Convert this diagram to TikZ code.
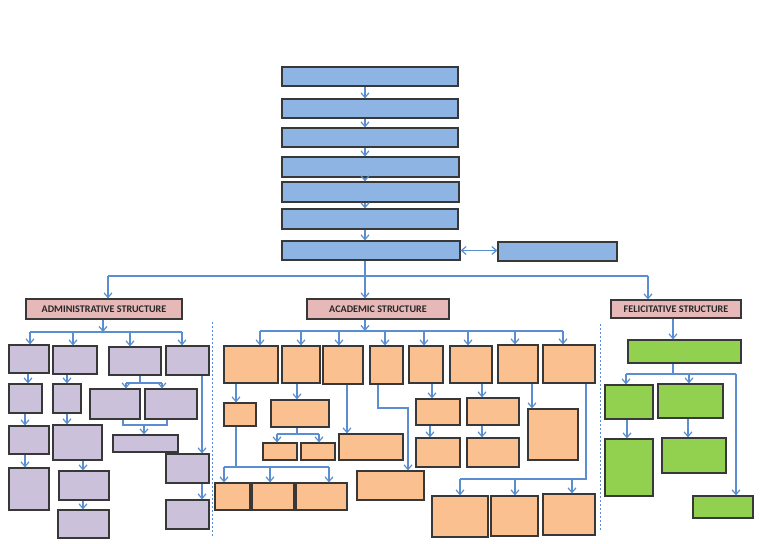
\documentclass[tikz,border=0pt]{standalone}
\usepackage{fontspec}
\newfontfamily\headfont{Carlito}
\usetikzlibrary{arrows.meta, fit}
\definecolor{topblue}{HTML}{8EB4E3}
\definecolor{adminlilac}{HTML}{CCC1DA}
\definecolor{acadorange}{HTML}{FAC090}
\definecolor{felgreen}{HTML}{92D050}
\definecolor{headpink}{HTML}{E6B9B8}
\definecolor{linkblue}{HTML}{5A8ED0}
\definecolor{boxline}{HTML}{383838}

\tikzset{
  box/.style={draw=boxline, line width=0.9pt, inner sep=0pt},
  topbox/.style={box, fill=topblue},
  adminbox/.style={box, fill=adminlilac},
  acadbox/.style={box, fill=acadorange},
  felbox/.style={box, fill=felgreen},
  headbox/.style={box, fill=headpink, minimum height=15pt, text=black!85,
    font=\headfont\bfseries\fontsize{7.6}{8}\selectfont},
  link/.style={draw=linkblue, line width=0.9pt},
  arr/.style={link, -{Straight Barb[length=3.5pt,width=6pt]}},
  sep/.style={draw=linkblue, line width=0.6pt, dash pattern=on 1.5pt off 1.5pt}
}

\begin{document}
\begin{tikzpicture}[x=0.75pt, y=-0.75pt]

      \useasboundingbox (0,0) rectangle (768,543);

      % 1. Cadena superior
      \node[topbox, fit={(282,67) (458,86)}]  (t1) {};
      \node[topbox, fit={(282,99) (458,118)}] (t2) {};
      \node[topbox, fit={(282,128) (458,147)}] (t3) {};
      \node[topbox, fit={(282,157) (459,177)}] (t4) {};
      \node[topbox, fit={(282,182) (459,202)}] (t5) {};
      \node[topbox, fit={(282,209) (458,229)}] (t6) {};
      \node[topbox, fit={(282,241) (460,260)}] (t7) {};
      \node[topbox, fit={(498,242) (617,261)}] (side) {};

      \coordinate (mbus) at (365,276);
      \foreach \a/\b in {t1/t2, t2/t3, t3/t4, t4/t5, t5/t6, t6/t7}
        \draw[arr] (\a.south -| mbus) -- (\b.north -| mbus);
      \draw[link, {Straight Barb[length=3.5pt,width=6pt]}-{Straight Barb[length=3.5pt,width=6pt]}]
        (t7.east) -- (t7.east -| side.west);

      % 2. Estructuras
      \node[headbox, minimum width=117pt] (adm) at (104,309) {ADMINISTRATIVE STRUCTURE};
      \node[headbox, minimum width=106.5pt] (acad) at (378,309) {ACADEMIC STRUCTURE};
      \node[headbox, minimum width=97.5pt, minimum height=13.5pt] (fel) at (676,309) {FELICITATIVE STRUCTURE};

      \draw[link] (t7.south -| mbus) -- (mbus);
      \draw[link] (mbus -| 108,0) -- (mbus -| 648,0);
      \draw[arr] (mbus -| 108,0) -- (adm.north -| 108,0);
      \draw[arr] (mbus) -- (acad.north -| mbus);
      \draw[arr] (mbus -| 648,0) -- (fel.north -| 648,0);

      % separadores
      \draw[sep] (212,322) -- (212,538);
      \draw[sep] (600,324) -- (600,530);

      % 3. Administrativa
      \node[adminbox, fit={(9,345) (49,373)}]    (a1) {};
      \node[adminbox, fit={(9,384) (42,413)}]    (a1b) {};
      \node[adminbox, fit={(9,426) (49,454)}]    (a1c) {};
      \node[adminbox, fit={(9,468) (49,510)}]    (a1d) {};
      \node[adminbox, fit={(53,346) (97,374)}]   (a2) {};
      \node[adminbox, fit={(53,384) (81,413)}]   (a2b) {};
      \node[adminbox, fit={(53,425) (102,460)}]  (a2c) {};
      \node[adminbox, fit={(59,471) (109,500)}]  (a2d) {};
      \node[adminbox, fit={(58,510) (109,538)}]  (a2e) {};
      \node[adminbox, fit={(109,347) (161,375)}] (a3) {};
      \node[adminbox, fit={(90,389) (140,419)}]  (a3a) {};
      \node[adminbox, fit={(145,389) (197,419)}] (a3b) {};
      \node[adminbox, fit={(113,435) (178,452)}] (a3c) {};
      \node[adminbox, fit={(166,346) (209,375)}] (a4) {};
      \node[adminbox, fit={(166,454) (209,483)}] (a4b) {};
      \node[adminbox, fit={(166,500) (209,529)}] (a4c) {};

      \coordinate (abus) at (103,332);
      \draw[arr] (adm.south -| abus) -- (abus);
      \draw[link] (abus -| 30,0) -- (abus -| 182,0);
      \foreach \x/\n in {30/a1, 73/a2, 130/a3, 182/a4}
        \draw[arr] (abus -| \x,0) -- (\n.north -| \x,0);

      \draw[arr] (a1.south -| 28,0) -- (a1b.north -| 28,0);
      \draw[arr] (a1b.south -| 25,0) -- (a1c.north -| 25,0);
      \draw[arr] (a1c.south -| 25,0) -- (a1d.north -| 25,0);
      \draw[arr] (a2.south -| 67,0) -- (a2b.north -| 67,0);
      \draw[arr] (a2b.south -| 67,0) -- (a2c.north -| 67,0);
      \draw[arr] (a2c.south -| 83,0) -- (a2d.north -| 83,0);
      \draw[arr] (a2d.south -| 83,0) -- (a2e.north -| 83,0);

      \coordinate (a3j) at (140,383);
      \draw[link] (a3.south -| a3j) -- (a3j);
      \draw[link] (a3j -| 126,0) -- (a3j -| 162,0);
      \draw[arr] (a3j -| 126,0) -- (a3a.north -| 126,0);
      \draw[arr] (a3j -| 162,0) -- (a3b.north -| 162,0);
      \coordinate (a3m) at (144,425);
      \draw[link] (a3a.south -| 123,0) |- (a3m) -| (a3b.south -| 167,0);
      \draw[arr] (a3m) -- (a3c.north -| a3m);

      \draw[arr] (a4.south -| 202,0) -- (a4b.north -| 202,0);
      \draw[arr] (a4b.south -| 202,0) -- (a4c.north -| 202,0);

      % 4. Academica
      \node[acadbox, fit={(224,346) (278,383)}] (b1) {};
      \node[acadbox, fit={(282,346) (320,383)}] (b2) {};
      \node[acadbox, fit={(323,346) (363,384)}] (b3) {};
      \node[acadbox, fit={(370,346) (403,384)}] (b4) {};
      \node[acadbox, fit={(409,346) (443,383)}] (b5) {};
      \node[acadbox, fit={(450,346) (492,383)}] (b6) {};
      \node[acadbox, fit={(498,345) (538,383)}] (b7) {};
      \node[acadbox, fit={(543,345) (595,383)}] (b8) {};

      \node[acadbox, fit={(224,403) (256,426)}] (c1) {};
      \node[acadbox, fit={(271,400) (329,427)}] (c2) {};
      \node[acadbox, fit={(339,434) (403,460)}] (c3) {};
      \node[acadbox, fit={(263,443) (297,460)}] (d1) {};
      \node[acadbox, fit={(301,443) (335,460)}] (d2) {};
      \node[acadbox, fit={(357,471) (424,500)}] (e) {};
      \node[acadbox, fit={(215,483) (250,510)}] (f1) {};
      \node[acadbox, fit={(252,483) (294,510)}] (f2) {};
      \node[acadbox, fit={(296,483) (347,510)}] (f3) {};
      \node[acadbox, fit={(416,399) (460,425)}] (g1) {};
      \node[acadbox, fit={(416,438) (460,467)}] (g2) {};
      \node[acadbox, fit={(467,398) (519,425)}] (h1) {};
      \node[acadbox, fit={(467,438) (519,467)}] (h2) {};
      \node[acadbox, fit={(528,409) (578,460)}] (i) {};
      \node[acadbox, fit={(432,496) (488,537)}] (j1) {};
      \node[acadbox, fit={(491,496) (538,536)}] (j2) {};
      \node[acadbox, fit={(543,494) (595,535)}] (j3) {};

      \coordinate (cbus) at (365,331);
      \draw[arr] (acad.south -| cbus) -- (cbus);
      \draw[link] (cbus -| 260,0) -- (cbus -| 563,0);
      \foreach \x/\n in {260/b1, 301/b2, 339/b3, 385/b4, 424/b5, 468/b6, 515/b7, 563/b8}
        \draw[arr] (cbus -| \x,0) -- (\n.north -| \x,0);

      \draw[arr] (b1.south -| 236,0) -- (c1.north -| 236,0);
      \draw[arr] (b2.south -| 297,0) -- (c2.north -| 297,0);
      \draw[arr] (b3.south -| 347,0) -- (c3.north -| 347,0);
      \coordinate (b4k) at (408,408);
      \draw[arr] (b4.south -| 378,0) |- (b4k) -- (e.north -| b4k);
      \draw[arr] (b5.south -| 432,0) -- (g1.north -| 432,0);
      \draw[arr] (g1.south -| 430,0) -- (g2.north -| 430,0);
      \draw[arr] (b6.south -| 482,0) -- (h1.north -| 482,0);
      \draw[arr] (h1.south -| 482,0) -- (h2.north -| 482,0);
      \draw[arr] (b7.south -| 532,0) -- (i.north -| 532,0);

      \coordinate (c2j) at (297,434);
      \draw[link] (c2.south -| c2j) -- (c2j);
      \draw[link] (c2j -| 277,0) -- (c2j -| 319,0);
      \draw[arr] (c2j -| 277,0) -- (d1.north -| 277,0);
      \draw[arr] (c2j -| 319,0) -- (d2.north -| 319,0);

      \coordinate (c1j) at (236,467);
      \draw[link] (c1.south -| c1j) -- (c1j);
      \draw[link] (c1j -| 224,0) -- (c1j -| 329,0);
      \foreach \x/\n in {224/f1, 270/f2, 329/f3}
        \draw[arr] (c1j -| \x,0) -- (\n.north -| \x,0);

      \coordinate (b8k) at (586,479);
      \draw[link] (b8.south -| b8k) -- (b8k) -- (b8k -| 460,0);
      \foreach \x/\n in {460/j1, 515/j2, 572/j3}
        \draw[arr] (b8k -| \x,0) -- (\n.north -| \x,0);

      % 5. Felicitativa
      \node[felbox, fit={(628,340) (741,363)}] (k) {};
      \node[felbox, fit={(605,385) (653,419)}] (l1) {};
      \node[felbox, fit={(658,384) (723,418)}] (l2) {};
      \node[felbox, fit={(605,439) (653,496)}] (m1) {};
      \node[felbox, fit={(662,438) (726,473)}] (m2) {};
      \node[felbox, fit={(693,496) (753,518)}] (m3) {};

      \coordinate (kbus) at (673,374);
      \draw[arr] (fel.south -| kbus) -- (k.north -| kbus);
      \draw[link] (k.south -| kbus) -- (kbus);
      \draw[link] (kbus -| 626,0) -- (kbus -| 736,0);
      \foreach \x/\n in {626/l1, 689/l2, 736/m3}
        \draw[arr] (kbus -| \x,0) -- (\n.north -| \x,0);
      \draw[arr] (l1.south -| 627,0) -- (m1.north -| 627,0);
      \draw[arr] (l2.south -| 688,0) -- (m2.north -| 688,0);

    \end{tikzpicture}
\end{document}
